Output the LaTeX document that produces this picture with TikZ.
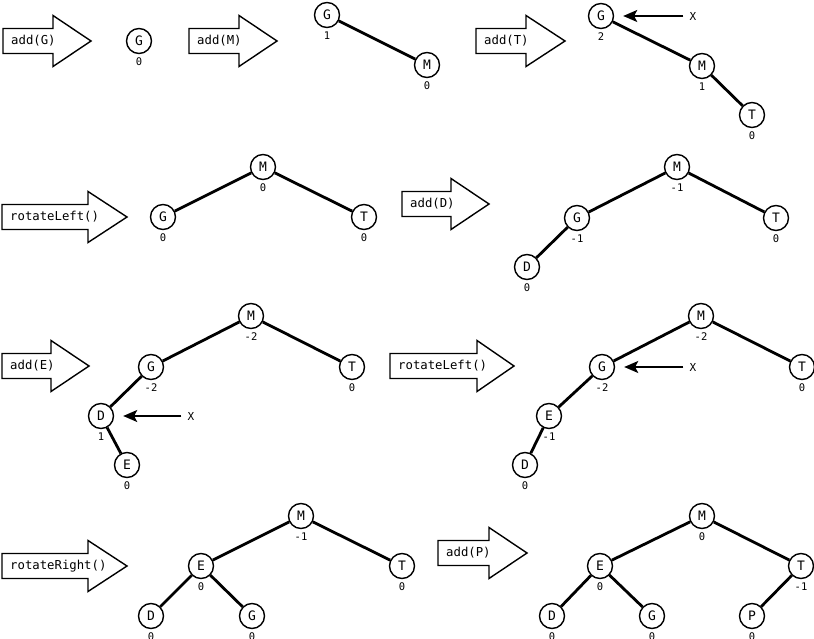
\documentclass[tikz,border=0pt]{standalone}
\usepackage{fontspec}
\setmonofont{DejaVu Sans Mono}
\usetikzlibrary{arrows.meta}
\tikzset{
 tn/.style={circle, draw, line width=1.4pt, minimum size=25pt, inner sep=0pt, fill=white, font=\ttfamily\fontsize{13}{13}\selectfont},
 bal/.style={inner sep=0pt, font=\ttfamily\fontsize{10.5}{11}\selectfont},
 edge/.style={line width=2.8pt},
 bigarr/.style={draw, line width=1.4pt, line join=miter, fill=white},
 cmd/.style={inner sep=0pt, anchor=west, font=\ttfamily\fontsize{12.3}{12.3}\selectfont},
 ptr/.style={line width=1.4pt, -{Stealth[length=14pt,width=12pt,inset=3pt]}, shorten >=9pt, shorten <=6pt},
 xlab/.style={inner sep=0pt, font=\ttfamily\fontsize{11}{11}\selectfont},
}
\newcommand\tnd[5]{\node[tn] (#1) at (#2,#3) {#4}; \node[bal] (#1b) at (#2,#3+21) {#5};}
\newcommand\barrow[6]{\draw[bigarr] (#2,#3-12.5) -- (#4,#3-12.5) -- (#4,#3-25.5) -- (#5,#3) -- (#4,#3+25.5) -- (#4,#3+12.5) -- (#2,#3+12.5) -- cycle; \node[cmd] (#1) at (#2+8,#3) {#6};}
\begin{document}
\begin{tikzpicture}[x=1pt,y=-1pt]
\useasboundingbox (0,0) rectangle (814,639);
% big arrows
\barrow{c1}{3}{41}{53}{91}{add(G)}
\barrow{c2}{189}{41}{239}{277}{add(M)}
\barrow{c3}{476}{41}{526}{565}{add(T)}
\barrow{c4}{2}{217}{88}{127}{rotateLeft()}
\barrow{c5}{402}{204}{451}{489}{add(D)}
\barrow{c6}{2}{366}{51}{89}{add(E)}
\barrow{c7}{390}{366}{477}{514}{rotateLeft()}
\barrow{c8}{2}{566}{88}{127}{rotateRight()}
\barrow{c9}{438}{553}{489}{527}{add(P)}
% tree 1
\tnd{aG}{139}{41}{G}{0}
% tree 2
\tnd{bG}{327}{15}{G}{1}
\tnd{bM}{427}{65}{M}{0}
\draw[edge] (bG) -- (bM);
% tree 3
\tnd{cG}{601}{16}{G}{2}
\tnd{cM}{702}{66}{M}{1}
\tnd{cT}{752}{115}{T}{0}
\draw[edge] (cG) -- (cM) (cM) -- (cT);
\node[xlab] (cX) at (693,16) {X};
\draw[ptr] (cX) -- (cG);
% tree 4
\tnd{dM}{263}{167}{M}{0}
\tnd{dG}{163}{217}{G}{0}
\tnd{dT}{364}{217}{T}{0}
\draw[edge] (dM) -- (dG) (dM) -- (dT);
% tree 5
\tnd{eM}{677}{167}{M}{-1}
\tnd{eG}{577}{218}{G}{-1}
\tnd{eT}{776}{218}{T}{0}
\tnd{eD}{527}{267}{D}{0}
\draw[edge] (eM) -- (eG) (eM) -- (eT) (eG) -- (eD);
% tree 6
\tnd{fM}{251}{316}{M}{-2}
\tnd{fG}{151}{367}{G}{-2}
\tnd{fT}{352}{367}{T}{0}
\tnd{fD}{101}{416}{D}{1}
\tnd{fE}{127}{465}{E}{0}
\draw[edge] (fM) -- (fG) (fM) -- (fT) (fG) -- (fD) (fD) -- (fE);
\node[xlab] (fX) at (191,416) {X};
\draw[ptr] (fX) -- (fD);
% tree 7
\tnd{gM}{701}{316}{M}{-2}
\tnd{gG}{602}{367}{G}{-2}
\tnd{gT}{802}{367}{T}{0}
\tnd{gE}{549}{416}{E}{-1}
\tnd{gD}{525}{465}{D}{0}
\draw[edge] (gM) -- (gG) (gM) -- (gT) (gG) -- (gE) (gE) -- (gD);
\node[xlab] (gX) at (693,367) {X};
\draw[ptr] (gX) -- (gG);
% tree 8
\tnd{hM}{301}{516}{M}{-1}
\tnd{hE}{201}{566}{E}{0}
\tnd{hT}{402}{566}{T}{0}
\tnd{hD}{151}{616}{D}{0}
\tnd{hG}{252}{616}{G}{0}
\draw[edge] (hM) -- (hE) (hM) -- (hT) (hE) -- (hD) (hE) -- (hG);
% tree 9
\tnd{iM}{702}{516}{M}{0}
\tnd{iE}{600}{566}{E}{0}
\tnd{iT}{801}{566}{T}{-1}
\tnd{iD}{552}{616}{D}{0}
\tnd{iG}{652}{616}{G}{0}
\tnd{iP}{752}{616}{P}{0}
\draw[edge] (iM) -- (iE) (iM) -- (iT) (iE) -- (iD) (iE) -- (iG) (iT) -- (iP);
\end{tikzpicture}
\end{document}
